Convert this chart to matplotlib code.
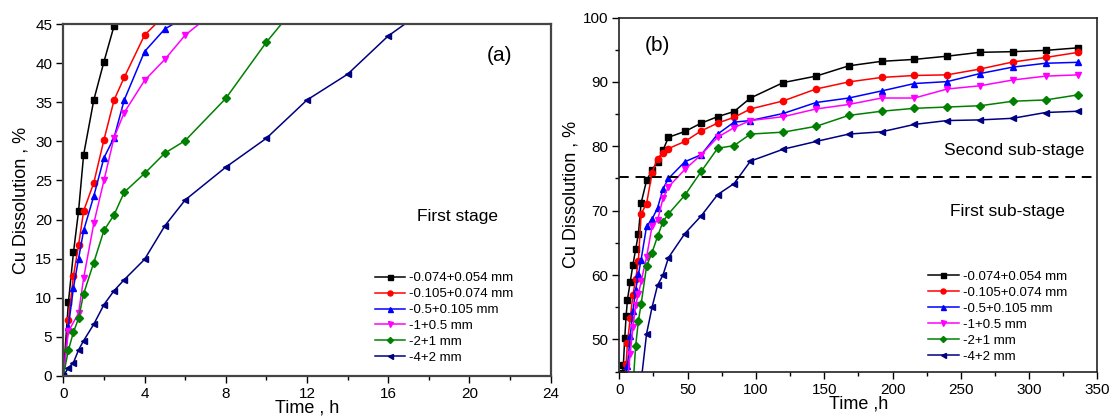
import numpy as np
import matplotlib
matplotlib.use("Agg")
from matplotlib import pyplot as plt
from matplotlib.ticker import MultipleLocator

plt.rcParams['font.family'] = ['Liberation Sans', 'DejaVu Sans']

# leaching time, h
time_h = [0, 0.25, 0.5, 0.75, 1, 1.5, 2, 2.5, 3, 4, 5, 6, 8, 10, 12, 14, 16,
          20, 24, 28, 32, 36, 48, 60, 72, 84, 96, 120, 144,
          168, 192, 216, 240, 264, 288, 312, 336]

labels = ["-0.074+0.054 mm", "-0.105+0.074 mm", "-0.5+0.105 mm",
          "-1+0.5 mm", "-2+1 mm", "-4+2 mm"]

# Cu dissolution, %
cu_0074 = [0, 9.4, 15.8, 21.1, 28.3, 35.3, 40.2, 44.8, 46.0, 50.2, 53.6, 56.2,
           58.9, 61.6, 64.0, 66.4, 71.2, 74.7, 76.3, 77.6, 79.4, 81.4,
           82.3, 83.6, 84.6, 85.4, 87.5, 89.9, 90.9,
           92.5, 93.2, 93.5, 94.0, 94.6, 94.7, 94.9, 95.3]
cu_0105 = [0, 7.2, 12.8, 16.7, 21.1, 24.7, 30.2, 35.3, 38.2, 43.6, 46.2, 49.5,
           53.3, 56.9, 59.4, 62.2, 69.5, 71.1, 75.9, 78.1, 79.0, 79.65,
           80.75, 82.4, 83.6, 84.5, 85.8, 87.05, 88.9,
           90.0, 90.7, 91.0, 91.1, 92.0, 93.1, 93.8, 94.6]
cu_05 = [0, 6.3, 11.3, 15.0, 18.6, 23.0, 27.9, 30.5, 35.3, 41.5, 44.4, 45.9,
         50.5, 54.4, 57.7, 60.1, 62.4, 67.6, 68.7, 70.4, 73.4, 75.0,
         77.6, 78.7, 81.9, 83.75, 84.0, 85.1, 86.8,
         87.5, 88.6, 89.75, 90.05, 91.3, 92.3, 92.9, 93.05]
cu_1 = [0, 5.7, np.nan, 8.0, 12.5, 19.5, 25.0, 30.5, 33.7, 37.8, 40.5, 43.6,
        47.8, 51.9, 55.4, 57.0, 59.0, 62.8, 67.6, 68.5, 71.9, 73.7,
        76.4, 78.7, 81.4, 82.9, 84.0, 84.6, 85.8,
        86.5, 87.5, 87.5, 88.9, 89.4, 90.3, 90.9, 91.1]
cu_2 = [0, 3.3, 5.6, 7.35, 10.5, 14.5, 18.6, 20.6, 23.5, 25.9, 28.5, 30.1,
        35.5, 42.7, 49.0, 52.9, 55.5, 61.4, 63.5, 66.0, 68.3, 69.5,
        72.4, 76.1, 79.7, 80.1, 81.9, 82.2, 83.1,
        84.8, 85.45, 85.9, 86.1, 86.3, 87.0, 87.2, 88.0]
cu_4 = [0, 1.0, 1.7, 3.3, 4.5, 6.6, 9.1, 10.9, 12.3, 14.9, 19.2, 22.5,
        26.7, 30.4, 35.3, 38.6, 43.5, 50.9, 55.0, 58.4, 60.0, 62.7,
        66.45, 69.2, 72.5, 74.2, 77.7, 79.55, 80.75,
        81.9, 82.25, 83.4, 84.0, 84.1, 84.35, 85.25, 85.45]

series = [cu_0074, cu_0105, cu_05, cu_1, cu_2, cu_4]
colors = ["black", "#ff0000", "#0000ff", "#ff00ff", "#008000", "#000080"]
markers = ["s", "o", "^", "v", "D", "<"]

fig = plt.figure(figsize=(11.15, 4.18), dpi=100)
ax_a = fig.add_axes([0.0568, 0.101, 0.437, 0.841])
ax_b = fig.add_axes([0.5554, 0.111, 0.4289, 0.847])

t = np.array(time_h)
for ax in (ax_a, ax_b):
  for y, c, m, lab in zip(series, colors, markers, labels):
    y = np.array(y, dtype=float)
    ok = ~np.isnan(y)
    ax.plot(t[ok], y[ok], color=c, marker=m, markersize=4.5 if m != "D" else 3.8,
            linewidth=1.1, label=lab)

# panel (a)
ax_a.set_xlim(0, 24)
ax_a.set_ylim(0, 45)
ax_a.xaxis.set_major_locator(MultipleLocator(4))
ax_a.xaxis.set_minor_locator(MultipleLocator(2))
ax_a.yaxis.set_major_locator(MultipleLocator(5))
ax_a.set_xlabel("Time , h", fontsize=13, labelpad=-1)
ax_a.set_ylabel("Cu Dissolution , %", fontsize=13, labelpad=4)
ax_a.text(21.5, 41.0, "(a)", fontsize=15, ha="center", va="center")
ax_a.text(19.4, 20.4, "First stage", fontsize=12.5, ha="center", va="center")
for s in ax_a.spines.values():
  s.set_color("#444444")
  s.set_linewidth(1.6)

# panel (b)
ax_b.set_xlim(0, 350)
ax_b.set_ylim(45, 100)
ax_b.xaxis.set_major_locator(MultipleLocator(50))
ax_b.xaxis.set_minor_locator(MultipleLocator(25))
ax_b.yaxis.set_major_locator(MultipleLocator(10))
ax_b.yaxis.set_minor_locator(MultipleLocator(5))
ax_b.axhline(75.2, color="black", linestyle=(0, (5, 3.5)), linewidth=1.4)
ax_b.set_xlabel("Time ,h", fontsize=13, labelpad=-1)
ax_b.set_ylabel("Cu Dissolution , %", fontsize=13, labelpad=2)
ax_b.text(28, 95.6, "(b)", fontsize=15, ha="center", va="center")
ax_b.text(289, 79.4, "Second sub-stage", fontsize=12.5, ha="center", va="center")
ax_b.text(284, 69.8, "First sub-stage", fontsize=12.5, ha="center", va="center")
for s in ax_b.spines.values():
  s.set_color("#222222")
  s.set_linewidth(1.2)

for ax in (ax_a, ax_b):
  ax.tick_params(axis="both", which="major", direction="out", length=5,
                 width=1.0, labelsize=11, pad=3)
  ax.tick_params(axis="both", which="minor", direction="out", length=3, width=1.0)

leg_kw = dict(frameon=False, fontsize=9.5, handlelength=2.3, handletextpad=0.3,
              labelspacing=0.28, borderaxespad=0.0, markerscale=0.8)
ax_a.legend(loc="upper left", bbox_to_anchor=(0.628, 0.31), **leg_kw)
ax_b.legend(loc="upper left", bbox_to_anchor=(0.635, 0.30), **leg_kw)

plt.savefig("out.png", dpi=100)
